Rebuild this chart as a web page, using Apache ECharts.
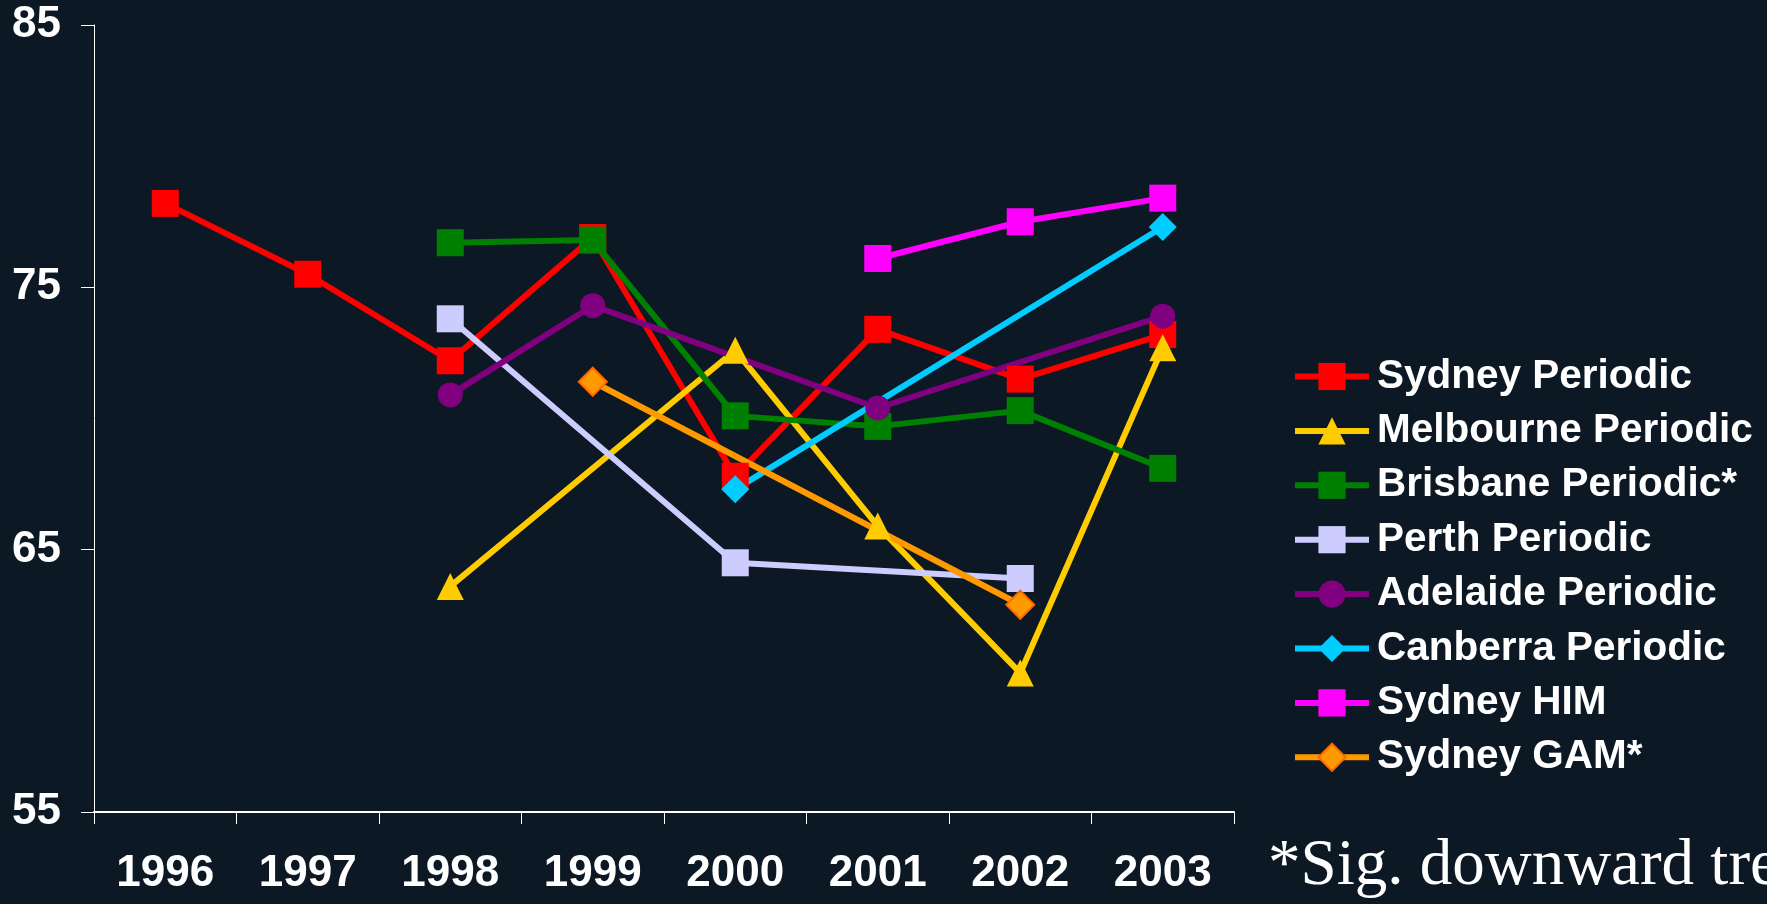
<!DOCTYPE html>
<html>
<head>
<meta charset="utf-8">
<script src="https://cdn.jsdelivr.net/npm/echarts@6/dist/echarts.min.js"></script>
<style>
  html, body { margin: 0; padding: 0; background: #0c1823; }
  #chart { width: 1767px; height: 904px; }
</style>
</head>
<body>
<div id="chart"></div>
<script>
// ---- data ----
const years = ['1996', '1997', '1998', '1999', '2000', '2001', '2002', '2003'];
const yTicks = [55, 65, 75, 85];
const sydneyPeriodic    = [78.2, 75.5, 72.2, 76.9, 67.8, 73.4, 71.5, 73.2];
const melbournePeriodic = [null, null, 63.6, null, 72.6, 65.9, 60.3, 72.7];
const brisbanePeriodic  = [null, null, 76.7, 76.8, 70.1, 69.7, 70.3, 68.1];
const perthPeriodic     = [null, null, 73.8, null, 64.5, null, 63.9, null];
const adelaidePeriodic  = [null, null, 70.9, 74.3, null, 70.4, null, 73.9];
const canberraPeriodic  = [null, null, null, null, 67.3, null, null, 77.3];
const sydneyHIM         = [null, null, null, null, null, 76.1, 77.5, 78.4];
const sydneyGAM         = [null, null, null, 71.4, null, null, 62.9, null];
const footnote = '*Sig. downward trend';

const FONT = '"Liberation Sans", Arial, sans-serif';

function mk(name, data, color, symbol, size, extraItem) {
  return {
    name: name,
    type: 'line',
    data: data,
    connectNulls: true,
    symbol: symbol,
    symbolSize: size,
    showAllSymbol: true,
    lineStyle: { color: color, width: 6 },
    itemStyle: Object.assign({ color: color, opacity: 1 }, extraItem || {}),
    emphasis: { disabled: true }
  };
}

const series = [
  mk('Sydney Periodic', sydneyPeriodic, '#ff0000', 'rect', 27),
  mk('Melbourne Periodic', melbournePeriodic, '#ffcc00', 'triangle', 27),
  mk('Brisbane Periodic*', brisbanePeriodic, '#008000', 'rect', 27),
  mk('Perth Periodic', perthPeriodic, '#ccccff', 'rect', 27),
  mk('Adelaide Periodic', adelaidePeriodic, '#800080', 'circle', 25),
  mk('Canberra Periodic', canberraPeriodic, '#00ccff', 'diamond', 28),
  mk('Sydney HIM', sydneyHIM, '#ff00ff', 'rect', 27),
  mk('Sydney GAM*', sydneyGAM, '#ff9900', 'diamond', 28, { borderColor: '#ff6600', borderWidth: 2 })
];

const chart = echarts.init(document.getElementById('chart'), null, { renderer: 'canvas' });
chart.setOption({
  backgroundColor: '#0c1823',
  animation: false,
  grid: { left: 94, top: 25, width: 1140, height: 787, containLabel: false },
  xAxis: {
    type: 'category',
    data: years,
    boundaryGap: true,
    axisLine: { lineStyle: { color: '#ffffff', width: 2 } },
    axisTick: { show: true, length: 12, lineStyle: { color: '#ffffff', width: 1 } },
    axisLabel: { color: '#ffffff', fontFamily: FONT, fontWeight: 'bold', fontSize: 44, margin: 40, interval: 0 },
    splitLine: { show: false }
  },
  yAxis: {
    type: 'value',
    min: yTicks[0],
    max: yTicks[yTicks.length - 1],
    interval: 10,
    axisLine: { show: true, lineStyle: { color: '#ffffff', width: 1 } },
    axisTick: { show: true, length: 13, lineStyle: { color: '#ffffff', width: 1 } },
    axisLabel: { color: '#ffffff', fontFamily: FONT, fontWeight: 'bold', fontSize: 44, margin: 33 },
    splitLine: { show: false }
  },
  legend: {
    orient: 'vertical',
    left: 1292,
    top: 356,
    padding: 0,
    itemWidth: 74,
    itemHeight: 34,
    itemGap: 13.4,
    selectedMode: false,
    lineStyle: { width: 6 },
    textStyle: { color: '#ffffff', fontFamily: FONT, fontWeight: 'bold', fontSize: 40.5, lineHeight: 40, padding: [0, 0, 0, 3] },
    data: series.map(s => s.name)
  },
  graphic: [{
    type: 'text',
    left: 1268,
    top: 834,
    style: {
      text: footnote,
      fill: '#ffffff',
      font: '65px "Liberation Serif", "Times New Roman", serif'
    }
  }],
  series: series
});
</script>
</body>
</html>
